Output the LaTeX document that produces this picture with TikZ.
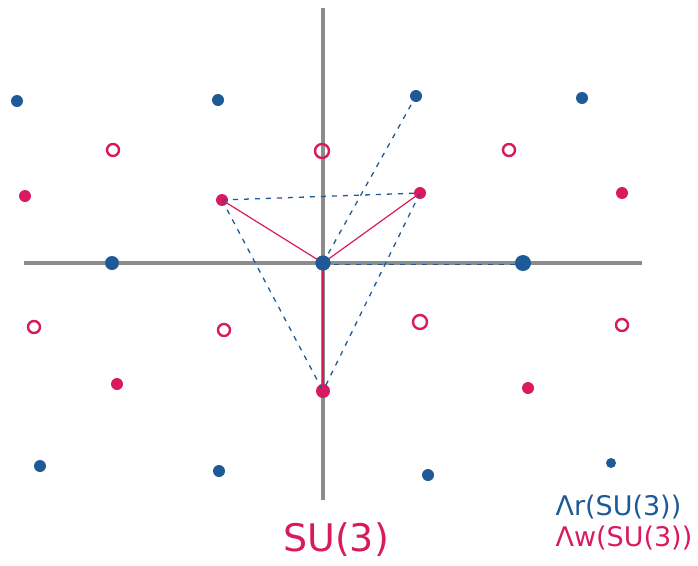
\documentclass[tikz,border=0pt]{standalone}
\usepackage{fontspec}
\setmainfont{DejaVu Sans}
\definecolor{bl}{HTML}{1E5A96}
\definecolor{mg}{HTML}{D81B60}
\definecolor{ax}{HTML}{8C8C8C}
\begin{document}
\begin{tikzpicture}[x=1pt,y=-1pt,
  bdot/.style={circle,fill=bl,inner sep=0pt,minimum size=12pt},
  mdot/.style={circle,fill=mg,inner sep=0pt,minimum size=12pt},
  mring/.style={circle,draw=mg,line width=2.4pt,inner sep=0pt,minimum size=12pt},
  axis/.style={draw=ax,line width=3.5pt},
  dsh/.style={draw=bl,line width=1.3pt,dash pattern=on 5pt off 6pt},
  msol/.style={draw=mg,line width=1.2pt},
  lbl/.style={font=\fontsize{38}{40}\selectfont}]
\useasboundingbox (0,0) rectangle (698,565);
% axes
\coordinate (xl) at (24,263); \coordinate (xr) at (642,263);
\coordinate (yt) at (323,8); \coordinate (yb) at (323,500);
\draw[axis] (xl) -- (xr);
\draw[axis] (yt) -- (yb);
% weights
\node[mdot] (w1) at (222,200) {};
\node[mdot] (w2) at (420,193) {};
\node[mdot,minimum size=14pt] (w3) at (323,391) {};
\node[mdot] (m1) at (25,196) {};
\node[mdot] (m2) at (622,193) {};
\node[mdot] (m3) at (117,384) {};
\node[mdot] (m4) at (528,388) {};
\node[mring] (r1) at (113,150) {};
\node[mring,minimum size=14pt] (r2) at (322,151) {};
\node[mring] (r3) at (509,150) {};
\node[mring] (r4) at (34,327) {};
\node[mring] (r5) at (224,330) {};
\node[mring,minimum size=14pt] (r6) at (420,322) {};
\node[mring] (r7) at (622,325) {};
% roots
\node[bdot,minimum size=15pt] (o) at (323,263) {};
\node[bdot] (b1) at (17,101) {};
\node[bdot] (b2) at (218,100) {};
\node[bdot] (b3) at (416,96) {};
\node[bdot] (b4) at (582,98) {};
\node[bdot,minimum width=14pt] (b5) at (112,263) {};
\node[bdot,minimum width=16pt] (b6) at (523,263) {};
\node[bdot] (b7) at (40,466) {};
\node[bdot] (b8) at (219,471) {};
\node[bdot] (b9) at (428,475) {};
\node[bdot,minimum size=10pt] (b10) at (611,463) {};
% dashed
\draw[dsh] (w1.center) -- (w2.center);
\draw[dsh] (w1.center) -- (w3.center);
\draw[dsh] (w2.center) -- (w3.center);
\draw[dsh] (o.center) -- (b3.center);
\draw[dsh] ([yshift=-1.5pt]o.center) -- ([yshift=-1.5pt]b6.center);
% solid
\draw[msol] (o.center) -- (w1.center);
\draw[msol] (o.center) -- (w2.center);
\draw[msol] (o.center) -- (w3.center);
\node[bdot,minimum size=15pt] at (o) {};
% labels
\node[lbl,text=mg] (su) at (336,540) {SU(3)};
\node[lbl,text=bl,font=\fontsize{27}{29}\selectfont,anchor=west] (lr) at (552,507) {Λr(SU(3))};
\node[lbl,text=mg,font=\fontsize{27}{29}\selectfont,anchor=west] (lw) at (552,538) {Λw(SU(3))};
\end{tikzpicture}
\end{document}
